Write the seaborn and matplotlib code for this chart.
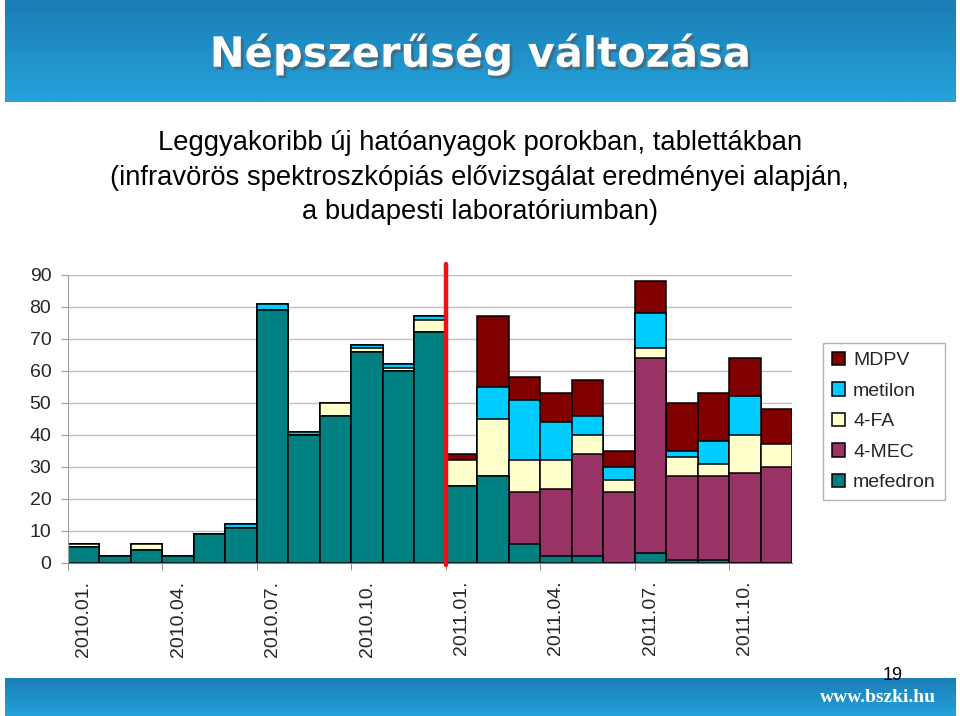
import numpy as np
import pandas as pd
import matplotlib
matplotlib.use("Agg")
import matplotlib.pyplot as plt
import matplotlib.patheffects as pe
from matplotlib.colors import LinearSegmentedColormap
import seaborn as sns

# ---------------- data ----------------
months = ["2010.01", "2010.02", "2010.03", "2010.04", "2010.05", "2010.06",
          "2010.07", "2010.08", "2010.09", "2010.10", "2010.11", "2010.12",
          "2011.01", "2011.02", "2011.03", "2011.04", "2011.05", "2011.06",
          "2011.07", "2011.08", "2011.09", "2011.10", "2011.11"]
tick_labels = ["2010.01.", "2010.04.", "2010.07.", "2010.10.",
               "2011.01.", "2011.04.", "2011.07.", "2011.10."]
mefedron = [5, 2, 4, 2, 9, 11, 79, 40, 46, 66, 60, 72, 24, 27, 6, 2, 2, 0, 3, 1, 1, 0, 0]
mec4 = [0, 0, 0, 0, 0, 0, 0, 0, 0, 0, 0, 0, 0, 0, 16, 21, 32, 22, 61, 26, 26, 28, 30]
fa4 = [1, 0, 2, 0, 0, 0, 0, 0, 4, 1, 1, 4, 8, 18, 10, 9, 6, 4, 3, 6, 4, 12, 7]
metilon = [0, 0, 0, 0, 0, 1, 2, 1, 0, 1, 1, 1, 0, 10, 19, 12, 6, 4, 11, 2, 7, 12, 0]
mdpv = [0, 0, 0, 0, 0, 0, 0, 0, 0, 0, 0, 0, 2, 22, 7, 9, 11, 5, 10, 15, 15, 12, 11]

series_names = ["mefedron", "4-MEC", "4-FA", "metilon", "MDPV"]
series_vals = [mefedron, mec4, fa4, metilon, mdpv]
colors = {"mefedron": "#008080", "4-MEC": "#993366", "4-FA": "#FFFFCC",
          "metilon": "#00CCFF", "MDPV": "#800000"}

title = "Népszerűség változása"
subtitle = ["Leggyakoribb új hatóanyagok porokban, tablettákban",
            "(infravörös spektroszkópiás elővizsgálat eredményei alapján,",
            "a budapesti laboratóriumban)"]

# ---------------- figure ----------------
sns.set_style("white")
plt.rcParams["font.family"] = ["Liberation Sans", "DejaVu Sans"]

W, H = 960, 716
fig = plt.figure(figsize=(W / 100, H / 100), dpi=100)

# top banner
grad = np.linspace(0, 1, 100).reshape(-1, 1)
cm_banner = LinearSegmentedColormap.from_list("b", ["#1B7DB5", "#25A2DA"])
bax = fig.add_axes([5 / W, 1 - 102 / H, 951 / W, 102 / H])
bax.imshow(grad, aspect="auto", cmap=cm_banner, extent=[0, 1, 0, 1], origin="upper")
bax.axis("off")
fig.text(480 / W, 1 - 54 / H, title, ha="center", va="center", fontsize=30,
         fontweight="bold", color="white", family="DejaVu Sans",
         path_effects=[pe.withSimplePatchShadow(offset=(2, -2), shadow_rgbFace="#555555", alpha=0.6)])

# bottom banner
bax2 = fig.add_axes([5 / W, 0, 951 / W, 38 / H])
bax2.imshow(grad, aspect="auto", cmap=cm_banner, extent=[0, 1, 0, 1], origin="upper")
bax2.axis("off")
fig.text(878 / W, 1 - 697 / H, "www.bszki.hu", ha="center", va="center", fontsize=14,
         fontweight="bold", color="white", family="Liberation Serif")
fig.text(893 / W, 1 - 675 / H, "19", ha="center", va="center", fontsize=13, color="black")

# subtitle
for txt, yy in zip(subtitle, [143, 178, 212]):
    fig.text(480 / W, 1 - yy / H, txt, ha="center", va="center", fontsize=19.7, color="black")

# chart axes
ax = fig.add_axes([68 / W, 1 - 562.7 / H, 724 / W, 288 / H])

cum = np.cumsum(np.array(series_vals), axis=0)
for i in range(len(series_names) - 1, -1, -1):
    name = series_names[i]
    sns.barplot(x=months, y=cum[i], order=months, color=colors[name], width=1,
                edgecolor="black", linewidth=1.1, errorbar=None, ax=ax, label=name,
                saturation=1)

ax.set_xlim(-0.5, len(months) - 0.5)
ax.set_ylim(0, 90)
ax.set_yticks(np.arange(0, 91, 10))
ax.yaxis.grid(True, color="#BFBFBF", linewidth=1)
ax.set_axisbelow(True)
for s in ["top", "right"]:
    ax.spines[s].set_visible(False)
ax.spines["left"].set_color("#A0A0A0")
ax.spines["bottom"].set_color("#808080")
ax.tick_params(axis="y", labelsize=14, length=5, color="#A0A0A0", pad=7, left=True)

ax.set_xticks(np.arange(0, len(months), 3))
ax.set_xticklabels(tick_labels, rotation=90, fontsize=14)
ax.set_xticks(np.arange(-0.5, len(months) - 1, 3), minor=True)
ax.tick_params(axis="x", which="major", length=0, pad=13)
ax.tick_params(axis="x", which="minor", length=5, color="#808080", bottom=True)
ax.set_xlabel("")
ax.set_ylabel("")

# red separator line
ax.plot([11.5, 11.5], [-0.7, 93.5], color="#EE1111", linewidth=3.2, clip_on=False, zorder=5)

leg = ax.legend(loc="upper left", bbox_to_anchor=(823 / W, 1 - 343 / H),
                bbox_transform=fig.transFigure, frameon=True, fancybox=False,
                edgecolor="#A0A0A0", fontsize=14, handlelength=0.7, handleheight=0.7,
                labelspacing=0.66, borderpad=0.45, handletextpad=0.4, borderaxespad=0)
leg.get_frame().set_linewidth(1)

fig.savefig("out.png", dpi=100)
